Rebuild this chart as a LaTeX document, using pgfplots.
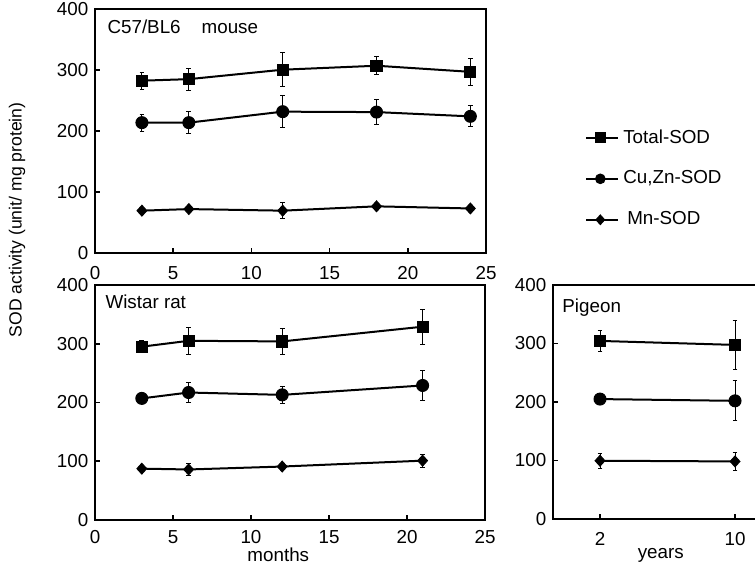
\documentclass[border=0pt]{standalone}
\usepackage{fontspec}
\setmainfont{Liberation Sans}
\usepackage{pgfplots}
\pgfplotsset{compat=1.18}
\newcommand{\fs}{\fontsize{9.4}{11}\selectfont}
\pgfplotsset{
  sodaxis/.style={
    scale only axis, anchor=south west,
    ymin=0, ymax=400, ytick={0,100,200,300,400},
    axis line style={line width=1pt},
    xtick pos=bottom, ytick pos=left,
    major tick length=2.5pt,
    tick style={line width=0.8pt, black},
    /pgf/number format/assume math mode=true,
    tick label style={font=\fs},
    xticklabel style={inner sep=0pt, yshift=-6.5pt},
    label style={font=\fs},
    clip=false,
  },
  serie/.style={black, line width=1pt,
    error bars/y dir=both, error bars/y explicit,
    error bars/error bar style={line width=0.5pt, black},
    error bars/error mark options={rotate=90, mark size=1.2pt, line width=0.5pt, black}},
  tot/.style={serie, mark=square*, mark size=2.8pt, mark options={solid, black, line width=0.5pt}},
  cuzn/.style={serie, mark=*, mark size=3pt, mark options={solid, black, line width=0.5pt}},
  mn/.style={serie, mark=diamond*, mark size=2.7pt, mark options={solid, black, line width=0.5pt, xscale=1.2}},
}
\begin{document}
\fs
\begin{tikzpicture}
\useasboundingbox (0,0) rectangle (377.5pt,281.5pt);
% top: mouse
\begin{axis}[sodaxis, at={(47.5pt,155pt)}, width=195.5pt, height=122pt,
  xmin=0, xmax=25, xtick={0,5,10,15,20,25},
  legend style={draw=none, fill=none, at={(rel axis cs:1.253,0.305)}, anchor=west,
    font=\fs, row sep=8.5pt, inner sep=0pt},
  legend cell align=left,
  legend image code/.code={
    \draw[#1, mark=none] (0pt,0pt) -- (14pt,0pt);
    \draw[#1, only marks, mark size=2.4pt] plot coordinates {(7pt,0pt)};
    \path (0pt,0pt) -- (16pt,0pt);},
]
\addplot[tot] coordinates {(3,282.5) +- (0,14) (6,285) +- (0,18) (12,300.5) +- (0,28) (18,307) +- (0,15) (24,297) +- (0,22)};
\addlegendentry{Total-SOD}
\addplot[cuzn] coordinates {(3,213.7) +- (0,14) (6,213.7) +- (0,18) (12,231.7) +- (0,26) (18,231) +- (0,20) (24,224) +- (0,17)};
\addlegendentry{Cu,Zn-SOD}
\addplot[mn] coordinates {(3,69.4) +- (0,4) (6,72) +- (0,4) (12,69.4) +- (0,13) (18,76.5) +- (0,4) (24,73) +- (0,5)};
\addlegendentry{\hspace{2pt}Mn-SOD}
\node[anchor=west, inner sep=0pt] at (rel axis cs:0.031,0.926) {C57/BL6\hspace{10.5pt}mouse};
\end{axis}
% bottom left: rat
\begin{axis}[sodaxis, at={(47.5pt,21.5pt)}, width=195pt, height=117.5pt,
  xmin=0, xmax=25, xtick={0,5,10,15,20,25},
  xticklabel style={inner sep=0pt, yshift=1.5pt},
  xlabel={months}, xlabel style={at={(axis description cs:0.47,0)}, anchor=base, inner sep=0pt, yshift=-20.8pt},
]
\addplot[tot] coordinates {(3,295) +- (0,10) (6,305) +- (0,23) (12,304) +- (0,22) (21,329) +- (0,30)};
\addplot[cuzn] coordinates {(3,207) +- (0,3) (6,217) +- (0,17) (12,213) +- (0,15) (21,229) +- (0,26)};
\addplot[mn] coordinates {(3,87.4) +- (0,3) (6,86) +- (0,11) (12,91) +- (0,3) (21,101) +- (0,11)};
\node[anchor=west, inner sep=0pt] at (rel axis cs:0.026,0.928) {Wistar rat};
\end{axis}
% bottom right: pigeon
\begin{axis}[sodaxis, at={(276.5pt,22pt)}, width=103.5pt, height=117pt,
  xmin=-0.785, xmax=11.48, xtick={2,10},
  xlabel={years}, xlabel style={at={(axis cs:5.6,0)}, anchor=base, inner sep=0pt, yshift=-19.5pt},
]
\addplot[tot] coordinates {(2,304.4) +- (0,18) (10,297.6) +- (0,42)};
\addplot[cuzn] coordinates {(2,205) +- (0,4) (10,202) +- (0,34)};
\addplot[mn] coordinates {(2,99.6) +- (0,13) (10,98.4) +- (0,15)};
\node[anchor=west, inner sep=0pt] at (axis cs:-0.25,362) {Pigeon};
\end{axis}
\node[rotate=90, font=\fontsize{8.8}{10}\selectfont] at (8.5pt,171.5pt) {SOD activity (unit/ mg protein)};
\end{tikzpicture}
\end{document}
